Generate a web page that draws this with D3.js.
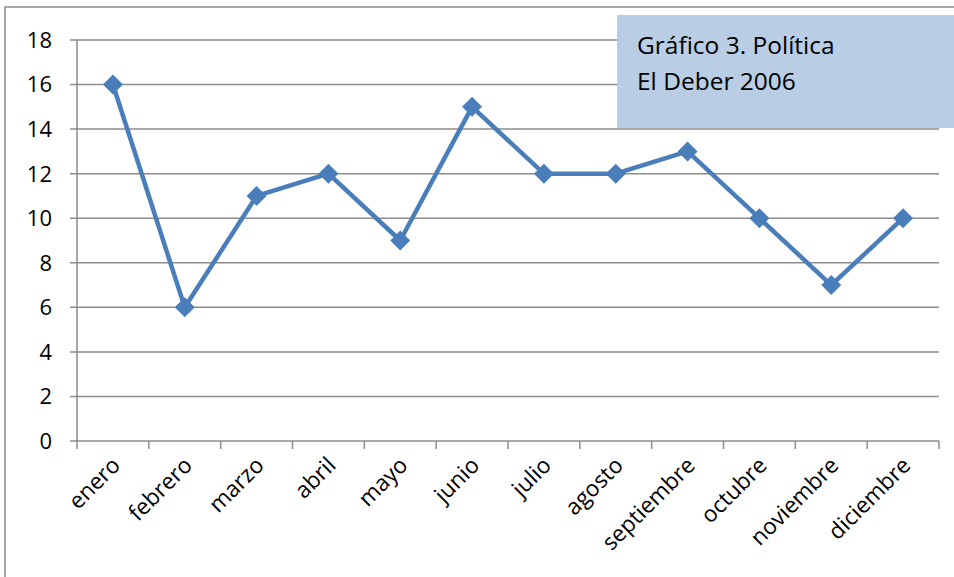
<!DOCTYPE html>
<html>
<head>
<meta charset="utf-8">
<script src="https://cdn.jsdelivr.net/npm/d3@7"></script>
<style>
  body { margin: 0; background: #fff; }
  svg { display: block; font-family: "Open Sans", "Noto Sans", sans-serif; }
</style>
</head>
<body>
<div id="chart"></div>
<script>
// data
var months = ["enero", "febrero", "marzo", "abril", "mayo", "junio", "julio",
  "agosto", "septiembre", "octubre", "noviembre", "diciembre"];
var counts = [16, 6, 11, 12, 9, 15, 12, 12, 13, 10, 7, 10];
var yTicks = [0, 2, 4, 6, 8, 10, 12, 14, 16, 18];
var titleLines = ["Gráfico 3. Política", "El Deber 2006"];

var width = 954, height = 577;
var plot = {left: 77, right: 939, top: 40, bottom: 441};
var blue = "#4a7ebb", grid = "#8c8c8c";

var svg = d3.select("#chart").append("svg")
  .attr("width", width)
  .attr("height", height);

// outer chart border (runs off the bottom and right)
svg.append("rect")
  .attr("x", 5).attr("y", 7)
  .attr("width", 1000).attr("height", 700)
  .attr("fill", "none")
  .attr("stroke", grid)
  .attr("stroke-width", 1.5);

var x = d3.scaleBand().domain(months).range([plot.left, plot.right]);
var y = d3.scaleLinear().domain([0, 18]).range([plot.bottom, plot.top]);

// horizontal gridlines with short ticks to the left
svg.append("g").selectAll("line")
  .data(yTicks)
  .enter().append("line")
  .attr("x1", plot.left - 7)
  .attr("x2", plot.right)
  .attr("y1", function(d) { return y(d); })
  .attr("y2", function(d) { return y(d); })
  .attr("stroke", grid)
  .attr("stroke-width", 1.5);

// y axis line
svg.append("line")
  .attr("x1", plot.left).attr("x2", plot.left)
  .attr("y1", plot.top).attr("y2", plot.bottom)
  .attr("stroke", grid).attr("stroke-width", 1.5);

// y labels
svg.append("g").selectAll("text")
  .data(yTicks)
  .enter().append("text")
  .attr("x", 52)
  .attr("y", function(d) { return y(d); })
  .attr("dy", "0.36em")
  .attr("text-anchor", "end")
  .attr("font-size", 22)
  .attr("fill", "#000")
  .text(function(d) { return d; });

// x tick marks at category boundaries
var bounds = months.map(function(m) { return x(m); }).concat([plot.right]);
svg.append("g").selectAll("line")
  .data(bounds)
  .enter().append("line")
  .attr("x1", function(d) { return d; })
  .attr("x2", function(d) { return d; })
  .attr("y1", plot.bottom)
  .attr("y2", plot.bottom + 8)
  .attr("stroke", grid).attr("stroke-width", 1.5);

// x labels, rotated
var cx = function(m) { return x(m) + x.bandwidth() / 2; };
svg.append("g").selectAll("text")
  .data(months)
  .enter().append("text")
  .attr("transform", function(d) {
    return "translate(" + (cx(d) + 3) + "," + (plot.bottom + 20) + ") rotate(-45)";
  })
  .attr("text-anchor", "end")
  .attr("dy", "0.36em")
  .attr("font-size", 22.5)
  .attr("fill", "#000")
  .text(function(d) { return d; });

// series line
var line = d3.line()
  .x(function(d, i) { return cx(months[i]); })
  .y(function(d) { return y(d); });

svg.append("path")
  .datum(counts)
  .attr("d", line)
  .attr("fill", "none")
  .attr("stroke", blue)
  .attr("stroke-width", 4.5)
  .attr("stroke-linejoin", "round");

// diamond markers
svg.append("g").selectAll("path")
  .data(counts)
  .enter().append("path")
  .attr("d", "M0,-10L10,0L0,10L-10,0Z")
  .attr("transform", function(d, i) {
    return "translate(" + cx(months[i]) + "," + y(d) + ")";
  })
  .attr("fill", blue);

// title box
var box = svg.append("g");
box.append("rect")
  .attr("x", 617).attr("y", 15)
  .attr("width", 340).attr("height", 113)
  .attr("fill", "#b9cde5");
box.selectAll("text")
  .data(titleLines)
  .enter().append("text")
  .attr("x", 637)
  .attr("y", function(d, i) { return 54 + i * 36; })
  .attr("font-size", 24.5)
  .attr("fill", "#000")
  .text(function(d) { return d; });
</script>
</body>
</html>
